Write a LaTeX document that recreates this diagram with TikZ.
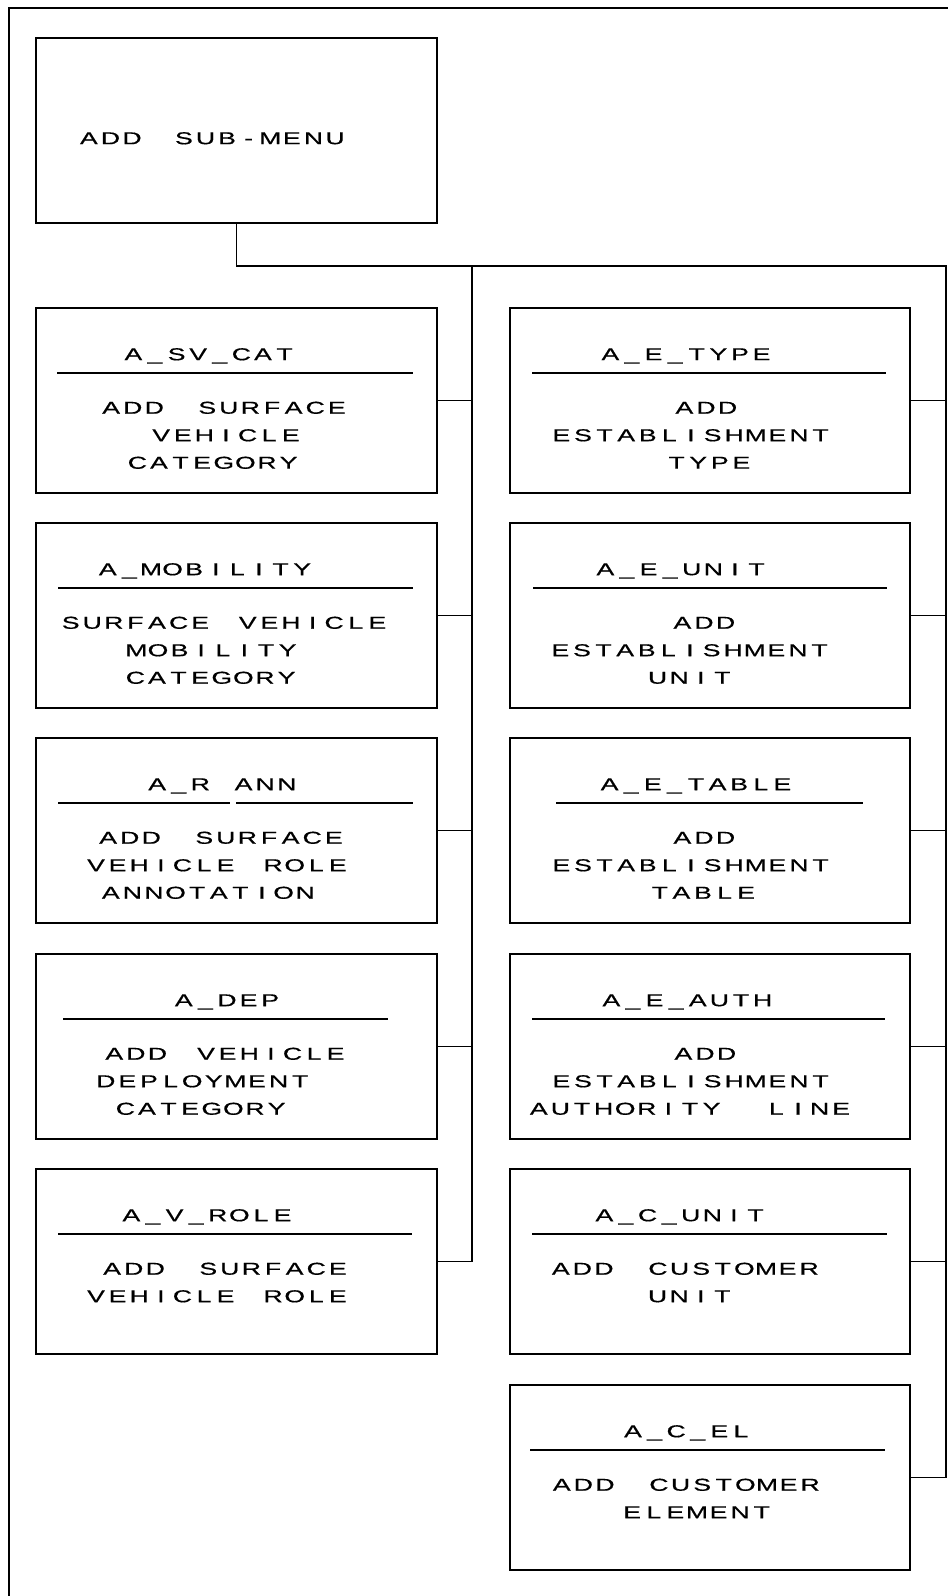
\documentclass[tikz,border=0pt]{standalone}
\usepackage{fontspec}
\newfontfamily\plotfont{Liberation Sans}[FakeStretch=1.55,FakeBold=0.5]
\ExplSyntaxOn
\dim_new:N \g_pl_pitch_dim
\dim_gset:Nn \g_pl_pitch_dim {10.8pt}
\cs_new_protected:Npn \pl_word:n #1
  { \tl_map_inline:nn {#1} { \makebox[\g_pl_pitch_dim]{##1} } }
\NewDocumentCommand \mono { O{1.3} m }
  {
    \seq_set_split:Nnn \l_tmpa_seq { ~ } {#2}
    \seq_map_indexed_inline:Nn \l_tmpa_seq
      {
        \int_compare:nNnT {##1} > {1} { \hspace{#1\g_pl_pitch_dim} }
        \pl_word:n {##2}
      }
  }
\ExplSyntaxOff
\tikzset{
  box/.style={draw, line width=0.8pt, inner sep=0pt, minimum width=200.5pt, minimum height=92.5pt},
  txt/.style={font=\plotfont\fontsize{8.6}{10}\selectfont, anchor=base, inner sep=0pt},
  rulel/.style={line width=0.6pt},
  conn/.style={line width=0.7pt},
  frame/.style={line width=1.4pt},
}
\newcommand\tl[5][1.3]{\node[txt] (#2) at (#3,#4+6.2) {\mono[#1]{#5}};}
\begin{document}
\begin{tikzpicture}[x=0.5pt,y=-0.5pt]
\useasboundingbox (0,0) rectangle (948,1596);
% frame
\draw[frame] (9,1596) -- (9,8) -- (948,8);
% top box
\node[box] (T) at (236.5,130.5) {};
\tl[1.4]{tT}{212}{138}{ADD SUB-MENU}
% left column boxes
\node[box] (L1) at (236.5,400.5) {};
\node[box] (L2) at (236.5,615.5) {};
\node[box] (L3) at (236.5,830.5) {};
\node[box] (L4) at (236.5,1046.5) {};
\node[box] (L5) at (236.5,1261.5) {};
% right column boxes
\node[box, minimum width=200pt] (R1) at (710,400.5) {};
\node[box, minimum width=200pt] (R2) at (710,615.5) {};
\node[box, minimum width=200pt] (R3) at (710,830.5) {};
\node[box, minimum width=200pt] (R4) at (710,1046.5) {};
\node[box, minimum width=200pt] (R5) at (710,1261.5) {};
\node[box, minimum width=200pt] (R6) at (710,1477.5) {};
% bus coordinates
\coordinate (jl) at (472,266);
\coordinate (jr) at (946,266);
% connectors
\draw[conn] (T.south) -- (T.south |- jr) -- (jr) -- (R6.east -| jr) -- (R6.east);
\draw[conn] (T.south |- jl) -- (jl) -- (L5.east -| jl) -- (L5.east);
\foreach \n in {L1,L2,L3,L4} {\draw[conn] (\n.east) -- (\n.east -| jl);}
\foreach \n in {R1,R2,R3,R4,R5} {\draw[conn] (\n.east) -- (\n.east -| jr);}
% rules
\draw[rulel] (57,373) -- (413,373);
\draw[rulel] (58,588) -- (413,588);
\draw[rulel] (58,803) -- (230,803);
\draw[rulel] (236,803) -- (413,803);
\draw[rulel] (63,1019) -- (388,1019);
\draw[rulel] (58,1234) -- (412,1234);
\draw[rulel] (532,373) -- (886,373);
\draw[rulel] (533,588) -- (887,588);
\draw[rulel] (556,803) -- (863,803);
\draw[rulel] (532,1019) -- (885,1019);
\draw[rulel] (532,1234) -- (887,1234);
\draw[rulel] (530,1450) -- (885,1450);
% left texts
\tl{l1t}{209}{354}{A\_SV\_CAT}
\tl[1.45]{l1a}{224}{407.5}{ADD SURFACE}
\tl{l1b}{226}{435}{VEHICLE}
\tl{l1c}{213}{462.5}{CATEGORY}
\tl{l2t}{205}{569}{A\_MOBILITY}
\tl[1.2]{l2a}{224}{622.5}{SURFACE VEHICLE}
\tl{l2b}{212}{650}{MOBILITY}
\tl{l2c}{211}{677.5}{CATEGORY}
\tl[1.0]{l3t}{222}{784}{A\_R ANN}
\tl[1.45]{l3a}{221}{837.5}{ADD SURFACE}
\tl[1.2]{l3b}{217}{865}{VEHICLE ROLE}
\tl{l3c}{208}{892.5}{ANNOTATION}
\tl{l4t}{227}{1000}{A\_DEP}
\tl[1.25]{l4a}{225}{1053.5}{ADD VEHICLE}
\tl{l4b}{203}{1081}{DEPLOYMENT}
\tl{l4c}{201}{1108.5}{CATEGORY}
\tl{l5t}{207}{1215}{A\_V\_ROLE}
\tl[1.45]{l5a}{225}{1268.5}{ADD SURFACE}
\tl[1.2]{l5b}{217}{1296}{VEHICLE ROLE}
% right texts
\tl{r1t}{686}{354}{A\_E\_TYPE}
\tl{r1a}{706}{407.5}{ADD}
\tl{r1b}{691}{435}{ESTABLISHMENT}
\tl{r1c}{709}{462.5}{TYPE}
\tl{r2t}{681}{569}{A\_E\_UNIT}
\tl{r2a}{704}{622.5}{ADD}
\tl{r2b}{690}{650}{ESTABLISHMENT}
\tl{r2c}{690}{677.5}{UNIT}
\tl{r3t}{696}{784}{A\_E\_TABLE}
\tl{r3a}{704}{837.5}{ADD}
\tl{r3b}{691}{865}{ESTABLISHMENT}
\tl{r3c}{703}{892.5}{TABLE}
\tl{r4t}{687}{1000}{A\_E\_AUTH}
\tl{r4a}{705}{1053.5}{ADD}
\tl{r4b}{691}{1081}{ESTABLISHMENT}
\tl[2.0]{r4c}{690}{1108.5}{AUTHORITY LINE}
\tl{r5t}{680}{1215}{A\_C\_UNIT}
\tl[1.5]{r5a}{685}{1268.5}{ADD CUSTOMER}
\tl{r5b}{690}{1296}{UNIT}
\tl{r6t}{687}{1431}{A\_C\_EL}
\tl[1.5]{r6a}{686}{1484.5}{ADD CUSTOMER}
\tl{r6b}{697}{1512}{ELEMENT}
\end{tikzpicture}
\end{document}
